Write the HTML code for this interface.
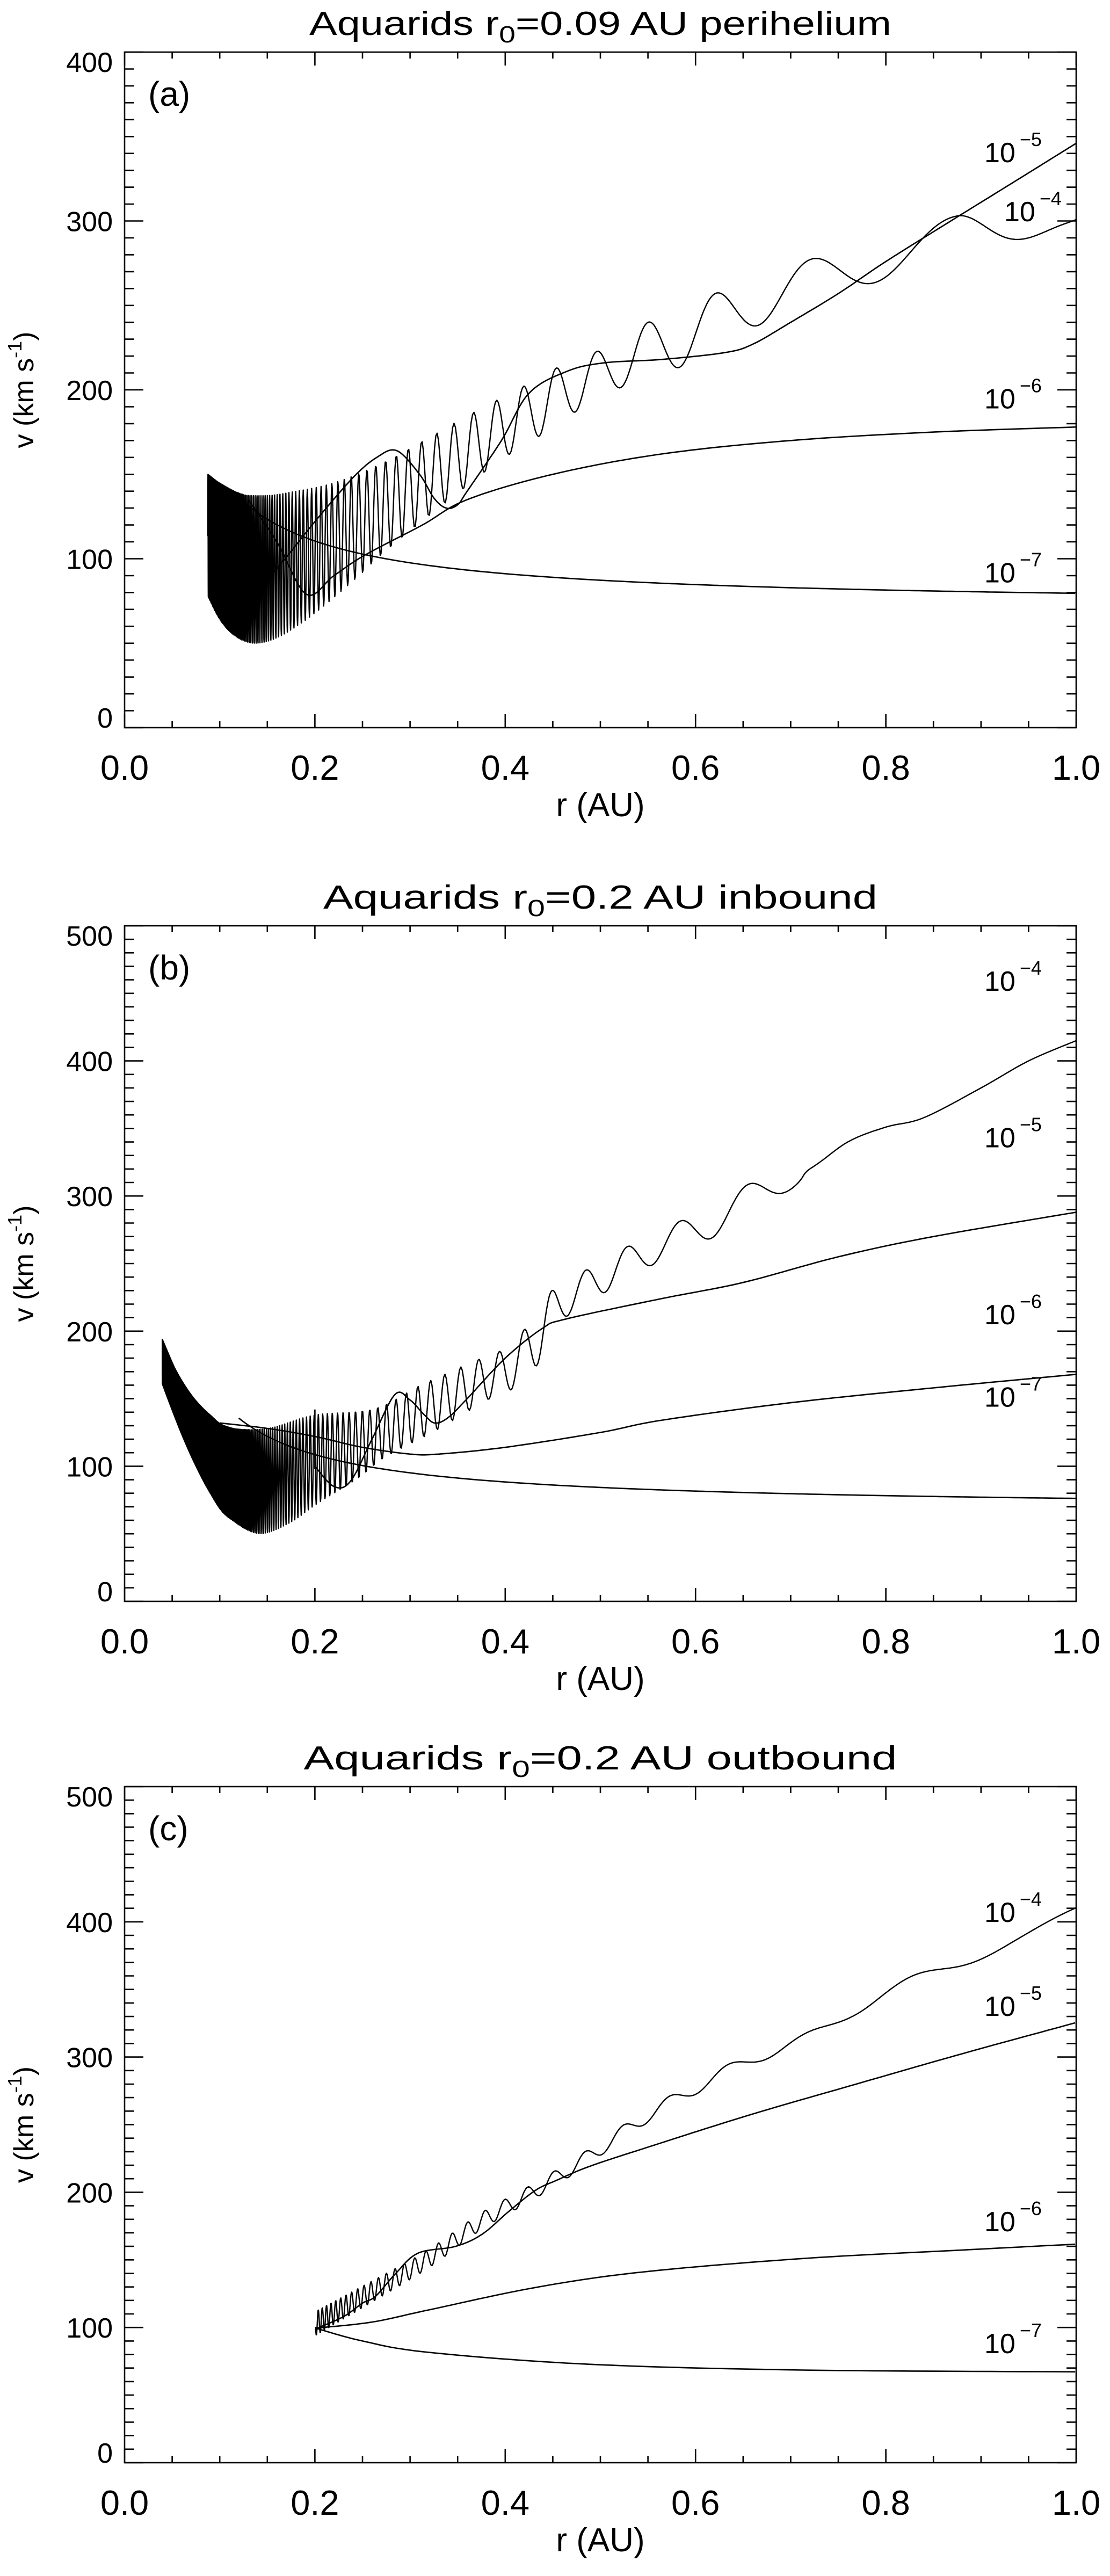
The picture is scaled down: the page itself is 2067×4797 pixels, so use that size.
<!DOCTYPE html>
<html><head><meta charset="utf-8">
<style>
html,body{margin:0;padding:0;background:#fff;}
svg{display:block;}
text{font-family:"Liberation Sans",sans-serif;fill:#000;}
</style></head>
<body>
<svg id="s" xmlns="http://www.w3.org/2000/svg" width="2067" height="4797" viewBox="0 0 2067 4797">
<rect width="2067" height="4797" fill="#fff"/>
<g id="g"></g>
</svg>
<script>
(function(){
var X0=232,X1=2004;
var P=[{top:97,bot:1355,ymax:400,title:['Aquarids r','0','=0.09 AU perihelium'],tw:1084,letter:'(a)'},
       {top:1724,bot:2982,ymax:500,title:['Aquarids r','0','=0.2 AU inbound'],tw:1032,letter:'(b)'},
       {top:3327,bot:4586,ymax:500,title:['Aquarids r','0','=0.2 AU outbound'],tw:1105,letter:'(c)'}];
var out=[];
function px(r){return X0+(X1-X0)*r;}
function py(p,v){return p.bot-(p.bot-p.top)*v/p.ymax;}
function lin(k,r){if(r<=k[0][0])return k[0][1];for(var i=1;i<k.length;i++){if(r<=k[i][0]){var t=(r-k[i-1][0])/(k[i][0]-k[i-1][0]);return k[i-1][1]+t*(k[i][1]-k[i-1][1]);}}return k[k.length-1][1];}
function pathFrom(p,pts){var d='';for(var i=0;i<pts.length;i++){d+=(i?'L':'M')+px(pts[i][0]).toFixed(1)+' '+py(p,pts[i][1]).toFixed(1);}return d;}
function smooth(pts){var o=[],n=pts.length;for(var i=0;i<n-1;i++){var p0=pts[Math.max(i-1,0)],p1=pts[i],p2=pts[i+1],p3=pts[Math.min(i+2,n-1)];for(var j=0;j<16;j++){var t=j/16,t2=t*t,t3=t2*t;var f=function(a,b,c,d){return 0.5*((2*b)+(-a+c)*t+(2*a-5*b+4*c-d)*t2+(-a+3*b-3*c+d)*t3);};o.push([f(p0[0],p1[0],p2[0],p3[0]),f(p0[1],p1[1],p2[1],p3[1])]);}}o.push(pts[n-1]);return o;}
function curve(pi,pts){out.push('<path d="'+pathFrom(P[pi],smooth(pts))+'" fill="none" stroke="#000" stroke-width="2.6" clip-path="url(#c'+pi+')"/>');}
function func(pi,f,r0){var pts=[];for(var r=r0;r<=1.0001;r+=0.004)pts.push([r,f(r)]);out.push('<path d="'+pathFrom(P[pi],pts)+'" fill="none" stroke="#000" stroke-width="2.6" clip-path="url(#c'+pi+')"/>');}
function osc(pi,r0,Mf,Af,cyc,cyclen){var pts=[];var r=r0;while(r<=1.0){var s=Math.pow(r,-1.5);var c=cyc(s);pts.push([r,Mf(r)+Af(r)*Math.cos(2*Math.PI*c)]);var dsdr=1.5*Math.pow(r,-2.5);var step=Math.min(0.0015,cyclen/dsdr/12);r+=step;}pts.push([1,Mf(1)+Af(1)*Math.cos(2*Math.PI*cyc(1))]);out.push('<path d="'+pathFrom(P[pi],pts)+'" fill="none" stroke="#000" stroke-width="2.4" stroke-linejoin="round" clip-path="url(#c'+pi+')"/>');}
function env(U,L){var su=smooth(U),sl=smooth(L);return [function(r){return (lin(su,r)+lin(sl,r))/2;},function(r){return Math.max(0,(lin(su,r)-lin(sl,r))/2);}];}

var defs='<defs>';
P.forEach(function(p,i){defs+='<clipPath id="c'+i+'"><rect x="'+X0+'" y="'+p.top+'" width="'+(X1-X0)+'" height="'+(p.bot-p.top)+'"/></clipPath>';});
defs+='</defs>';
out.push(defs);

P.forEach(function(p,i){
  out.push('<rect x="'+X0+'" y="'+p.top+'" width="'+(X1-X0)+'" height="'+(p.bot-p.top)+'" fill="none" stroke="#000" stroke-width="2.6"/>');
  var t='';
  for(var k=0;k<=20;k++){var x=px(k*0.05);var L=(k%4==0)?25:12;t+='M'+x.toFixed(1)+' '+p.bot+'v-'+L+'M'+x.toFixed(1)+' '+p.top+'v'+L;}
  for(var v=0;v<=p.ymax;v+=10){var y=py(p,v);var L2=(v%100==0)?35:18;t+='M'+X0+' '+y.toFixed(1)+'h'+L2+'M'+X1+' '+y.toFixed(1)+'h-'+L2;}
  out.push('<path d="'+t+'" stroke="#000" stroke-width="2.6" fill="none"/>');
  for(var v=0;v<=p.ymax;v+=100){var y=py(p,v);var b=y+19;if(v==p.ymax)b=p.top+37;if(v==0)b=p.bot;
    out.push('<text x="210" y="'+b.toFixed(1)+'" font-size="52" text-anchor="end">'+v+'</text>');}
  for(var k=0;k<=5;k++){var x=px(k*0.2);out.push('<text x="'+x.toFixed(1)+'" y="'+(p.bot+97)+'" font-size="65" text-anchor="middle">'+(k*0.2).toFixed(1)+'</text>');}
  out.push('<text x="1118" y="'+(p.bot+165)+'" font-size="62" text-anchor="middle">r (AU)</text>');
  var cy=(p.top+p.bot)/2;
  out.push('<text transform="translate(62 '+cy+') rotate(-90)" font-size="52" text-anchor="middle">v (km s<tspan font-size="36" dy="-22">-1</tspan><tspan dy="22">)</tspan></text>');
  out.push('<text x="1118" y="'+(p.top-32)+'" font-size="62" text-anchor="middle" textLength="'+p.tw+'" lengthAdjust="spacingAndGlyphs">'+p.title[0]+'<tspan font-size="44" dy="14">'+p.title[1]+'</tspan><tspan dy="-14">'+p.title[2]+'</tspan></text>');
  out.push('<text x="276" y="'+(p.top+100)+'" font-size="64">'+p.letter+'</text>');
});

function lab(x,y,e){out.push('<text x="'+x+'" y="'+y.toFixed(1)+'" font-size="52">10<tspan font-size="36" dx="8" dy="-30">\u2212'+e+'</tspan></text>');}
lab(1833,302,5);lab(1870,412,4);lab(1833,py(P[0],189),6);lab(1833,py(P[0],86),7);
lab(1833,py(P[1],452),4);lab(1833,py(P[1],336),5);lab(1833,py(P[1],205),6);lab(1833,py(P[1],144),7);
lab(1833,3579,4);lab(1833,3754,5);lab(1833,4155,6);lab(1833,4382,7);

// Panel a
var aU=[[0.0875,150],[0.1,145],[0.12,140],[0.145,138],[0.17,139],[0.22,145],[0.274,158],[0.307,168],[0.336,177],[0.371,188],[0.395,195],[0.422,203],[0.45,212],[0.497,223],[0.55,240],[0.625,258],[0.725,278],[0.875,303],[1.0,306]];
var aL=[[0.0875,78],[0.1,64],[0.115,54],[0.133,49],[0.16,53],[0.198,67],[0.245,89],[0.27,102],[0.326,128],[0.342,135],[0.38,152],[0.405,162],[0.437,173],[0.471,186],[0.52,201],[0.59,215],[0.665,238],[0.78,262],[0.95,290],[1.0,292]];
var ea=env(aU,aL);
osc(0,0.0875,ea[0],ea[1],function(s){return s>=1.222?(2.452-s)/0.41:3+(1.222-s)/0.28;},0.41);
curve(0,[[0.13,75],[0.17,101],[0.2,122],[0.24,148],[0.265,160],[0.286,164],[0.31,150],[0.325,136],[0.338,130],[0.35,132],[0.36,140],[0.396,170],[0.425,198],[0.465,211],[0.504,216],[0.564,218],[0.63,222],[0.66,227],[0.7,240],[0.75,257],[0.8,276],[0.874,302],[0.94,325],[1.0,346]]);
curve(0,[[0.13,135],[0.16,110],[0.191,79],[0.22,90],[0.252,102],[0.313,120],[0.36,135],[0.45,150],[0.564,162],[0.7,170],[0.85,175],[1.0,178]]);
func(0,function(r){return 71.8+7.74/r;},0.115);

// Panel b
var bU=[[0.0396,194],[0.055,170],[0.072,151],[0.09,138],[0.108,130],[0.15,128],[0.2,138],[0.263,143],[0.308,159],[0.333,167],[0.366,177.5],[0.409,191],[0.43,215],[0.449,230],[0.482,244],[0.524,261],[0.58,280],[0.66,310],[0.72,320],[0.76,340],[0.8,351],[0.84,358],[0.9,380],[0.95,400],[1.0,415]];
var bL=[[0.0396,161],[0.055,132],[0.072,104.5],[0.09,80],[0.108,62],[0.14,50],[0.173,58],[0.202,72],[0.245,90.6],[0.274,106.5],[0.326,126],[0.376,147],[0.423,165],[0.4625,209],[0.499,226],[0.546,246],[0.62,270],[0.7,305],[0.72,320],[0.76,340],[0.8,351],[0.84,358],[0.9,380],[0.95,400],[1.0,415]];
var eb=env(bU,bL);
osc(1,0.0396,eb[0],eb[1],function(s){return (3.324-s)/0.36;},0.36);
curve(1,[[0.2,100],[0.22,85],[0.2375,89],[0.26,120],[0.284,153],[0.3,149],[0.315,138],[0.326,132],[0.34,136],[0.36,150],[0.4,180],[0.439,202],[0.464,209],[0.564,224],[0.65,236],[0.75,255],[0.85,270],[1.0,288]]);
curve(1,[[0.1,132],[0.15,128],[0.2,122],[0.25,114],[0.3,109],[0.33,109],[0.4,114],[0.5,125],[0.564,134],[0.7,147],[0.85,158],[1.0,168]]);
func(1,function(r){return 68.1+8.1/r;},0.12);
out.push('<path d="M'+px(0.2).toFixed(1)+' '+py(P[1],98).toFixed(1)+'V'+py(P[1],142).toFixed(1)+'" stroke="#000" stroke-width="2.6"/>');

// Panel c
var cM=smooth([[0.2007,103],[0.2636,128],[0.3197,151],[0.3758,179],[0.432,201.5],[0.488,226.5],[0.544,254],[0.6,277],[0.656,297.5],[0.7127,312.6],[0.7688,335.3],[0.825,355.6],[0.881,369.4],[0.937,388.4],[1.0,407.5]]);
var cA=[[0.2007,9],[0.3,7],[0.4,6],[0.55,5],[0.7,4],[1.0,3]];
osc(2,0.2007,function(r){return lin(cM,r);},function(r){return lin(cA,r);},function(s){return s/0.33;},0.33);
curve(2,[[0.2007,99],[0.23,108],[0.25,118],[0.2636,123],[0.285,140],[0.3085,155],[0.3479,160],[0.3758,169],[0.404,186],[0.432,201.5],[0.4545,209],[0.488,219],[0.544,232],[0.656,257],[0.7688,280],[0.881,302.6],[0.999,325.3]]);
curve(2,[[0.2007,99.5],[0.26,104],[0.3197,113],[0.432,129.6],[0.544,141],[0.7127,151],[0.881,157.3],[0.999,161.6]]);
curve(2,[[0.2007,99.5],[0.25,90],[0.3197,81.6],[0.488,72.8],[0.7127,68.5],[0.999,67.2]]);

document.getElementById('g').innerHTML=out.join('');
})();
</script>
</body></html>
